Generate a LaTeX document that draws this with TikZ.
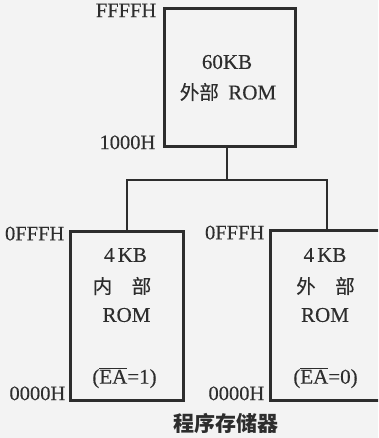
\documentclass[tikz,border=0pt]{standalone}
\usepackage{fontspec}
\setmainfont{Liberation Serif}[FakeBold=0.35]
\newfontfamily\cjk{Noto Sans CJK SC}
\newfontfamily\cjkr{Noto Sans CJK SC}[FakeBold=0.2]
\definecolor{ink}{RGB}{45,45,45}
\definecolor{paper}{RGB}{243,243,243}
\begin{document}
\begin{tikzpicture}[x=1pt,y=-1pt,
  membox/.style={draw=ink, line width=3pt, inner sep=0pt},
  conn/.style={draw=ink, line width=2pt},
  addr/.style={text=ink, inner sep=0pt, font=\fontsize{20.5}{22}\selectfont},
  lbl/.style={text=ink, inner sep=0pt, font=\fontsize{21}{24}\selectfont},
  clbl/.style={text=ink, inner sep=0pt, font=\cjkr\fontsize{19.5}{22}\selectfont}]
\useasboundingbox (0,0) rectangle (378,438);
\fill[paper] (0,0) rectangle (378,438);
\clip (0,0) rectangle (378,438);
% boxes
\node[membox, minimum width=131pt, minimum height=138pt] (top) at (229.5,78) {};
\node[membox, minimum width=113pt, minimum height=169pt] (left) at (126.5,315.5) {};
\node[membox, minimum width=113pt, minimum height=170pt] (right) at (326.5,315) {};
% connectors
\coordinate (split) at (227,180);
\draw[conn] (split |- top.south) -- (split);
\draw[conn] (left.north) |- (split) -| (right.north);
% address labels
\node[addr, anchor=north east] (a1) at ([xshift=-6pt,yshift=4pt]top.north west) {FFFFH};
\node[addr, anchor=south east] (a2) at ([xshift=-7pt,yshift=-1pt]top.south west) {1000H};
\node[addr, anchor=north east] (a3) at ([xshift=-4pt,yshift=3pt]left.north west) {0FFFH};
\node[addr, anchor=south east] (a4) at ([xshift=-3pt,yshift=1pt]left.south west) {0000H};
\node[addr, anchor=north east] (a5) at ([xshift=-4pt,yshift=3pt]right.north west) {0FFFH};
\node[addr, anchor=south east] (a6) at ([xshift=-4pt,yshift=1pt]right.south west) {0000H};
% top box text
\node[lbl] (t1) at (227,62) {60KB};
\node[lbl] (t2) at (228,92) {{\cjkr\fontsize{19.5}{22}\selectfont 外部}\hspace{0.45em}ROM};
% left box text
\node[lbl] (l1) at (125.5,255) {4\hspace{0.15em}KB};
\node[clbl] (l2) at (122,286) {内\hspace{1em}部};
\node[lbl] (l3) at (126.5,315) {ROM};
\node[lbl] (l4) at (124.5,378) {($\overline{\mbox{EA}}$=1)};
% right box text
\node[lbl] (r1) at (325,255) {4\hspace{0.15em}KB};
\node[clbl] (r2) at (325.5,286) {外\hspace{1em}部};
\node[lbl] (r3) at (325,315) {ROM};
\node[lbl] (r4) at (325.5,378) {($\overline{\mbox{EA}}$=0)};
% caption
\node[text=ink, inner sep=0pt, font=\cjk\bfseries\fontsize{21}{24}\selectfont] (cap) at (226,423) {程序存储器};
\end{tikzpicture}
\end{document}
